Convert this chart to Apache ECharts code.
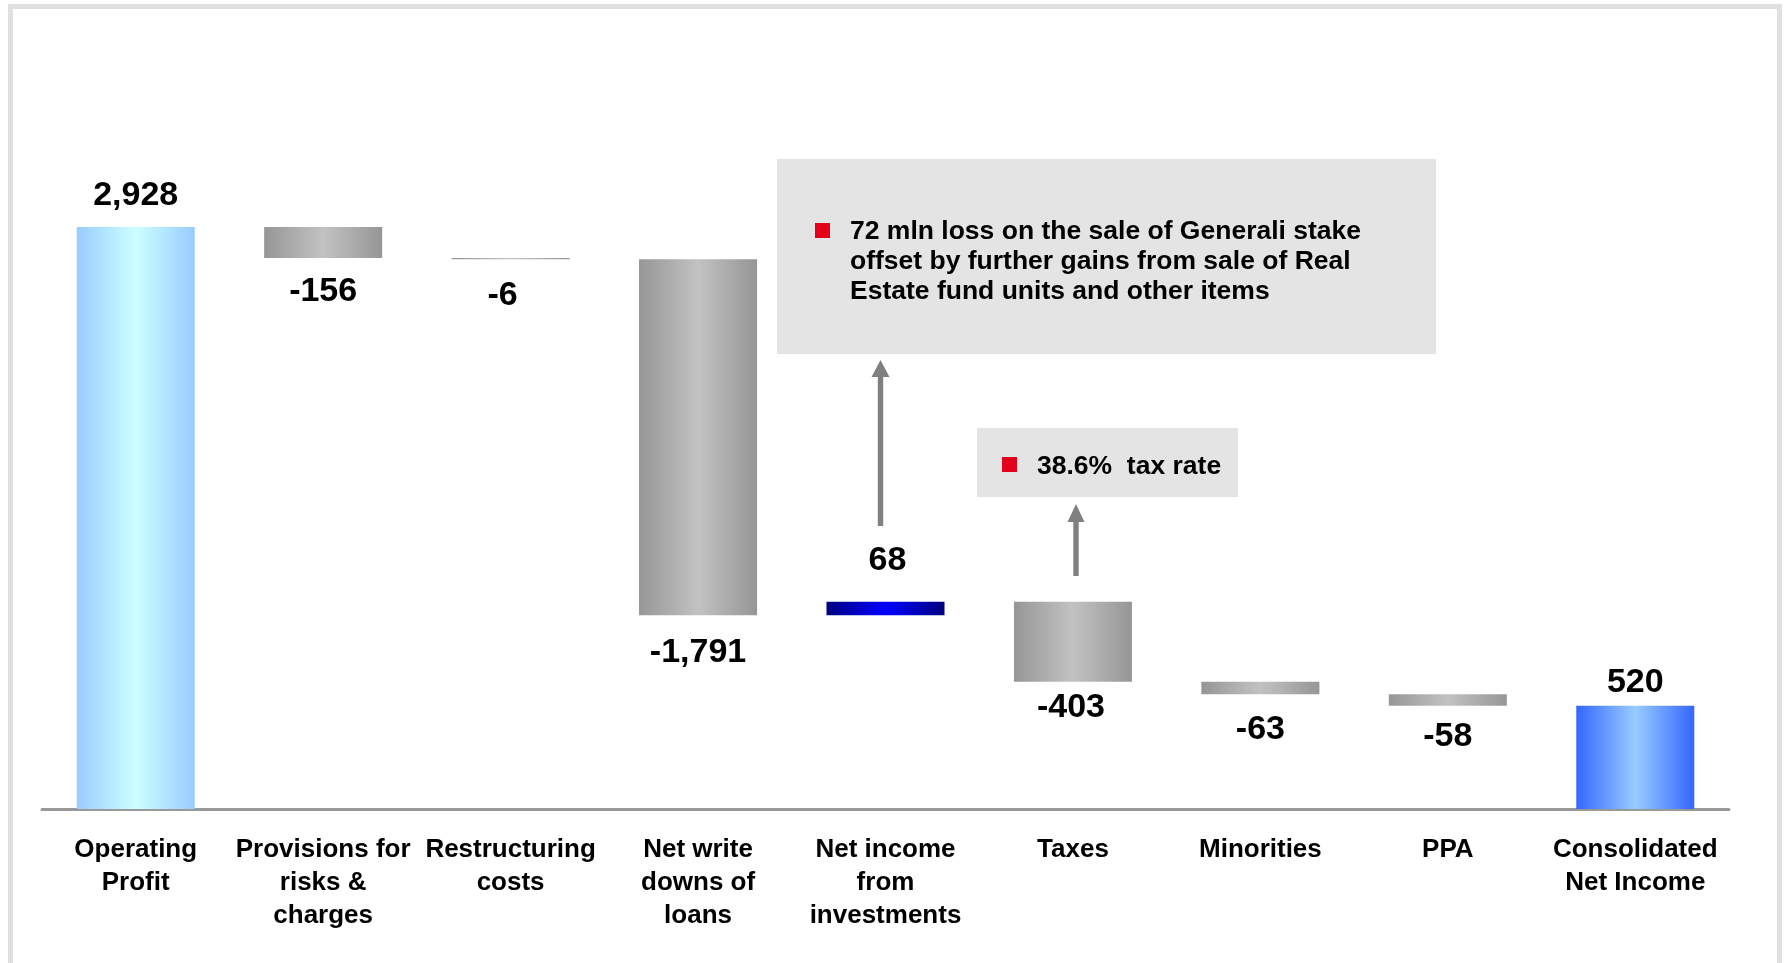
<!DOCTYPE html>
<html>
<head>
<meta charset="utf-8">
<title>Operating Profit to Consolidated Net Income</title>
<script src="https://cdn.jsdelivr.net/npm/echarts@6/dist/echarts.min.js"></script>
<style>
  html, body { margin: 0; padding: 0; background: #ffffff; }
  #main { width: 1784px; height: 963px; }
</style>
</head>
<body>
<div id="main"></div>
<script>
// Bridge from operating profit to consolidated net income (EUR mln)
const categories = [
  'Operating\nProfit',
  'Provisions for\nrisks &\ncharges',
  'Restructuring\ncosts',
  'Net write\ndowns of\nloans',
  'Net income\nfrom\ninvestments',
  'Taxes',
  'Minorities',
  'PPA',
  'Consolidated\nNet Income'
];
const movements = [2928, -156, -6, -1791, 68, -403, -63, -58, 520];
const stepKinds = ['start', 'step', 'step', 'step', 'step', 'step', 'step', 'step', 'total'];

const investmentNote = [
  '72 mln loss on the sale of Generali stake',
  'offset by further gains from sale of Real',
  'Estate fund units and other items'
];
const taxNote = '38.6%  tax rate';

// Label spacing from the bar edge, and small horizontal nudges
const labelGap = [14, 16.5, 19.5, 20, 24, 9, 18, 14, 6];
const labelNudge = [0, 0, -8, 0, 2, -2, 0, 0, 0];

const FONT = "'Liberation Sans', Arial, Helvetica, sans-serif";

function hGradient(edge, mid) {
  return {
    type: 'linear', x: 0, y: 0, x2: 1, y2: 0,
    colorStops: [
      { offset: 0, color: edge },
      { offset: 0.5, color: mid },
      { offset: 1, color: edge }
    ]
  };
}
const fills = {
  start: hGradient('#99CCFF', '#CCFFFF'),
  down: hGradient('#969696', '#C2C2C2'),
  up: hGradient('#000080', '#0000FF'),
  total: hGradient('#3366FF', '#99CCFF')
};

// Build invisible bases and visible steps of the waterfall
const bases = [];
const steps = [];
let level = 0;
movements.forEach((v, i) => {
  const kind = stepKinds[i];
  let base, look, up;
  if (kind === 'start') {
    base = 0; level = v; look = 'start'; up = true;
  } else if (kind === 'total') {
    base = 0; look = 'total'; up = true;
  } else if (v < 0) {
    level += v; base = level; look = 'down'; up = false;
  } else {
    base = level; level += v; look = 'up'; up = true;
  }
  bases.push(base);
  steps.push({
    value: Math.abs(v),
    itemStyle: { color: fills[look] },
    label: {
      show: true,
      position: up ? 'top' : 'bottom',
      distance: labelGap[i],
      offset: [labelNudge[i], 0],
      formatter: () => v.toLocaleString('en-US'),
      fontFamily: FONT,
      fontWeight: 'bold',
      fontSize: 34,
      lineHeight: 34,
      color: '#000000'
    }
  });
});

function arrow(cx, bottom, headBase, tip, halfShaft, halfHead) {
  return {
    type: 'polygon',
    shape: {
      points: [
        [cx - halfShaft, bottom], [cx - halfShaft, headBase], [cx - halfHead, headBase],
        [cx, tip], [cx + halfHead, headBase], [cx + halfShaft, headBase], [cx + halfShaft, bottom]
      ]
    },
    style: { fill: '#808080' },
    silent: true
  };
}

const chart = echarts.init(document.getElementById('main'), null, { renderer: 'canvas' });
chart.setOption({
  animation: false,
  backgroundColor: '#ffffff',
  grid: { left: 42, right: 55, top: 14, bottom: 154 },
  xAxis: {
    type: 'category',
    data: categories,
    axisLine: { show: true, lineStyle: { color: '#999999', width: 3 } },
    axisTick: { show: false },
    splitLine: { show: false },
    axisLabel: {
      interval: 0,
      margin: 24,
      fontFamily: FONT,
      fontWeight: 'bold',
      fontSize: 26,
      lineHeight: 33,
      color: '#000000',
      align: 'center'
    }
  },
  yAxis: { type: 'value', min: 0, max: 4000, show: false, splitLine: { show: false } },
  series: [
    {
      name: 'base', type: 'bar', stack: 'bridge', barWidth: 118,
      data: bases, itemStyle: { color: 'transparent' }, silent: true, emphasis: { disabled: true }
    },
    {
      name: 'movement', type: 'bar', stack: 'bridge', barWidth: 118,
      data: steps, emphasis: { disabled: true }
    }
  ],
  graphic: {
    elements: [
      // page frame
      {
        type: 'rect', silent: true,
        shape: { x: 10.5, y: 6.5, width: 1769, height: 1100 },
        style: { fill: 'none', stroke: '#E0E0E0', lineWidth: 5 }
      },
      // note on investments
      { type: 'rect', silent: true, shape: { x: 777, y: 159, width: 659, height: 195 }, style: { fill: '#E4E4E4' } },
      { type: 'rect', silent: true, shape: { x: 815, y: 223, width: 15, height: 15 }, style: { fill: '#E3001B' } },
      {
        type: 'text', silent: true, x: 850, y: 217,
        style: {
          text: investmentNote.join('\n'),
          font: 'bold 26.5px ' + FONT, lineHeight: 30,
          fill: '#000000', verticalAlign: 'top', align: 'left'
        }
      },
      arrow(880.5, 526, 377, 360, 2.7, 9),
      // note on taxes
      { type: 'rect', silent: true, shape: { x: 977, y: 428, width: 261, height: 69 }, style: { fill: '#E4E4E4' } },
      { type: 'rect', silent: true, shape: { x: 1002, y: 457, width: 15, height: 15 }, style: { fill: '#E3001B' } },
      {
        type: 'text', silent: true, x: 1037, y: 467,
        style: {
          text: taxNote,
          font: 'bold 26.5px ' + FONT, lineHeight: 30,
          fill: '#000000', verticalAlign: 'middle', align: 'left'
        }
      },
      arrow(1076, 576, 522, 504, 2.7, 8.5)
    ]
  }
});
</script>
</body>
</html>
